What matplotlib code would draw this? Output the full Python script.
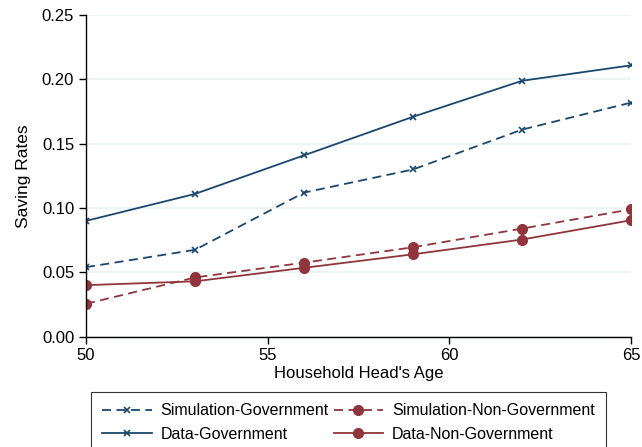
import matplotlib
matplotlib.use("Agg")
import matplotlib.pyplot as plt

ages = [50, 53, 56, 59, 62, 65]
sim_gov = [0.054, 0.0675, 0.112, 0.130, 0.161, 0.182]
sim_nongov = [0.0255, 0.046, 0.0575, 0.0695, 0.084, 0.099]
data_gov = [0.090, 0.111, 0.141, 0.171, 0.199, 0.211]
data_nongov = [0.040, 0.043, 0.0535, 0.064, 0.0755, 0.0905]
yticks = [0.00, 0.05, 0.10, 0.15, 0.20, 0.25]
xticks = [50, 55, 60, 65]

blue = "#1a476f"
red = "#90353b"

plt.rcParams['font.family'] = ['Liberation Sans', 'DejaVu Sans']

fig = plt.figure(figsize=(6.42, 4.47), dpi=100)
ax = fig.add_axes([0.134, 0.247, 0.849, 0.719])

l1, = ax.plot(ages, sim_gov, color=blue, ls=(0, (5, 3)), lw=1.3, marker='x', ms=4.5, mew=1.2,
              label='Simulation-Government')
l2, = ax.plot(ages, sim_nongov, color=red, ls=(0, (5, 3)), lw=1.3, marker='o', ms=7,
              label='Simulation-Non-Government')
l3, = ax.plot(ages, data_gov, color=blue, ls='-', lw=1.3, marker='x', ms=4.5, mew=1.2,
              label='Data-Government')
l4, = ax.plot(ages, data_nongov, color=red, ls='-', lw=1.3, marker='o', ms=7,
              label='Data-Non-Government')

ax.set_xlim(50, 65)
ax.set_ylim(0, 0.25)
ax.set_xticks(xticks)
ax.set_yticks(yticks)
ax.set_yticklabels([f"{v:.2f}" for v in yticks])
ax.tick_params(labelsize=12, length=5, width=1, color='black')
ax.grid(axis='y', color='#eaf2f3', lw=1.2)
ax.set_axisbelow(True)
for s in ['top', 'right']:
    ax.spines[s].set_visible(False)
for s in ['left', 'bottom']:
    ax.spines[s].set_color('black')
    ax.spines[s].set_linewidth(1)
ax.set_xlabel("Household Head's Age", fontsize=12, labelpad=2)
ax.set_ylabel("Saving Rates", fontsize=12.5, labelpad=8)

leg = fig.legend(handles=[l1, l3, l2, l4], ncol=2, loc='upper left',
                 bbox_to_anchor=(0.142, 0.123), fontsize=11.5, frameon=True,
                 fancybox=False, edgecolor='black', handlelength=3.1,
                 columnspacing=0.3, handletextpad=0.55, borderpad=0.7,
                 labelspacing=0.55, borderaxespad=0)
leg.get_frame().set_linewidth(0.8)

fig.savefig("out.png", dpi=100)
